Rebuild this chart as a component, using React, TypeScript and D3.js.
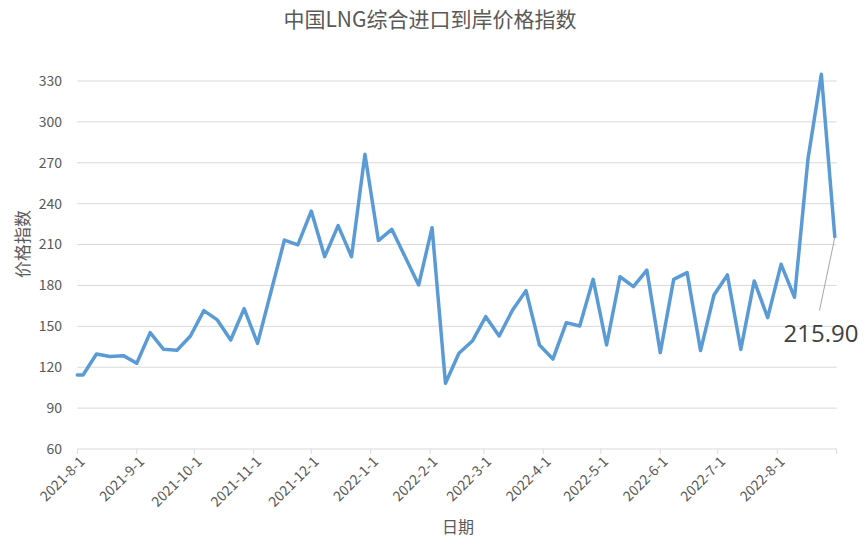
import React from "react";
import * as d3 from "d3";

const TITLE = "中国LNG综合进口到岸价格指数";
const Y_TITLE = "价格指数";
const X_TITLE = "日期";

const dates: string[] = [
  "2021-08-01", "2021-08-04", "2021-08-11", "2021-08-18", "2021-08-25",
  "2021-09-01", "2021-09-08", "2021-09-15", "2021-09-22", "2021-09-29",
  "2021-10-06", "2021-10-13", "2021-10-20", "2021-10-27", "2021-11-03",
  "2021-11-10", "2021-11-17", "2021-11-24", "2021-12-01", "2021-12-08",
  "2021-12-15", "2021-12-22", "2021-12-29", "2022-01-05", "2022-01-12",
  "2022-01-19", "2022-01-26", "2022-02-02", "2022-02-09", "2022-02-16",
  "2022-02-23", "2022-03-02", "2022-03-09", "2022-03-16", "2022-03-23",
  "2022-03-30", "2022-04-06", "2022-04-13", "2022-04-20", "2022-04-27",
  "2022-05-04", "2022-05-11", "2022-05-18", "2022-05-25", "2022-06-01",
  "2022-06-08", "2022-06-15", "2022-06-22", "2022-06-29", "2022-07-06",
  "2022-07-13", "2022-07-20", "2022-07-27", "2022-08-03", "2022-08-10",
  "2022-08-17", "2022-08-24", "2022-08-31",
];

const values: number[] = [
  114.3, 114.3, 129.7, 127.8, 128.5,
  122.9, 145.4, 133.1, 132.4, 142.9,
  161.5, 154.7, 140.0, 163.0, 137.5,
  175.4, 213.3, 209.7, 234.6, 201.1,
  223.9, 201.1, 276.2, 212.9, 221.2,
  200.8, 180.3, 222.4, 108.2, 130.2,
  139.2, 157.1, 142.9, 162.0, 176.2,
  136.3, 126.0, 152.7, 150.2, 184.5,
  136.3, 186.4, 179.1, 191.3, 130.7,
  184.5, 189.4, 132.2, 173.0, 187.7,
  133.1, 183.3, 156.4, 195.5, 171.3,
  272.5, 334.9, 215.9,
];

const yTicks: number[] = [60, 90, 120, 150, 180, 210, 240, 270, 300, 330];

const xTickLabels: string[] = [
  "2021-8-1", "2021-9-1", "2021-10-1", "2021-11-1", "2021-12-1",
  "2022-1-1", "2022-2-1", "2022-3-1", "2022-4-1", "2022-5-1",
  "2022-6-1", "2022-7-1", "2022-8-1",
];
const xEndLabel = "2022-9-1";

const LAST_LABEL = "215.90";

const W = 865;
const H = 547;
const FONT = "'Noto Sans CJK SC', 'Open Sans', sans-serif";
const TEXT_COLOR = "#595959";

const parse = d3.timeParse("%Y-%m-%d");
const parseTick = (s: string) => {
  const [y, m, d] = s.split("-").map(Number);
  return new Date(y, m - 1, d);
};

export default function App() {
  const data = dates.map((d, i) => ({ date: parse(d) as Date, value: values[i] }));
  const left = 77.3;
  const right = 836.7;
  const top = 81;
  const bottom = 449;

  const x = d3
    .scaleTime()
    .domain([parseTick(xTickLabels[0]), parseTick(xEndLabel)])
    .range([left, right]);
  const y = d3.scaleLinear().domain([60, 330]).range([bottom, top]);

  const line = d3
    .line<{ date: Date; value: number }>()
    .x((d) => x(d.date))
    .y((d) => y(d.value));

  const allTicks = [...xTickLabels, xEndLabel];
  const last = data[data.length - 1];
  const lx = x(last.date);
  const ly = y(last.value);

  return (
    <div style={{ position: "absolute", left: 0, top: 0 }}>
      <svg width={W} height={H} style={{ display: "block", background: "#fff" }}>
        <rect width={W} height={H} fill="#fff" />
        <text
          x={430}
          y={27}
          textAnchor="middle"
          fontFamily={FONT}
          fontSize={21}
          fill={TEXT_COLOR}
        >
          {TITLE}
        </text>

        {yTicks.map((t) => (
          <g key={t}>
            <line
              x1={left}
              x2={right}
              y1={y(t)}
              y2={y(t)}
              stroke="#d9d9d9"
              strokeWidth={1}
            />
            <text
              x={62}
              y={y(t)}
              dy="0.35em"
              textAnchor="end"
              fontFamily={FONT}
              fontSize={14}
              fill={TEXT_COLOR}
            >
              {t}
            </text>
          </g>
        ))}

        {allTicks.map((t, i) => {
          const tx = x(parseTick(t));
          return (
            <g key={t}>
              <line x1={tx} x2={tx} y1={bottom} y2={bottom + 5} stroke="#d9d9d9" />
              {i < xTickLabels.length && (
                <text
                  transform={`translate(${tx + 5},${bottom + 10}) rotate(-45)`}
                  textAnchor="end"
                  dy="0.35em"
                  fontFamily={FONT}
                  fontSize={14}
                  fill={TEXT_COLOR}
                >
                  {t}
                </text>
              )}
            </g>
          );
        })}

        <text
          transform={`translate(29,244) rotate(-90)`}
          textAnchor="middle"
          fontFamily={FONT}
          fontSize={17}
          fill={TEXT_COLOR}
        >
          {Y_TITLE}
        </text>
        <text
          x={458}
          y={533}
          textAnchor="middle"
          fontFamily={FONT}
          fontSize={16}
          fill={TEXT_COLOR}
        >
          {X_TITLE}
        </text>

        <path
          d={line(data) || ""}
          fill="none"
          stroke="#5b9bd5"
          strokeWidth={3.5}
          strokeLinejoin="round"
          strokeLinecap="round"
        />

        <line x1={lx} y1={ly + 1} x2={lx - 15.3} y2={ly + 74} stroke="#a6a6a6" strokeWidth={1} />
        <text
          x={821}
          y={342}
          textAnchor="middle"
          fontFamily="'Open Sans', sans-serif"
          fontSize={24}
          fill="#404040"
        >
          {LAST_LABEL}
        </text>
      </svg>
    </div>
  );
}
